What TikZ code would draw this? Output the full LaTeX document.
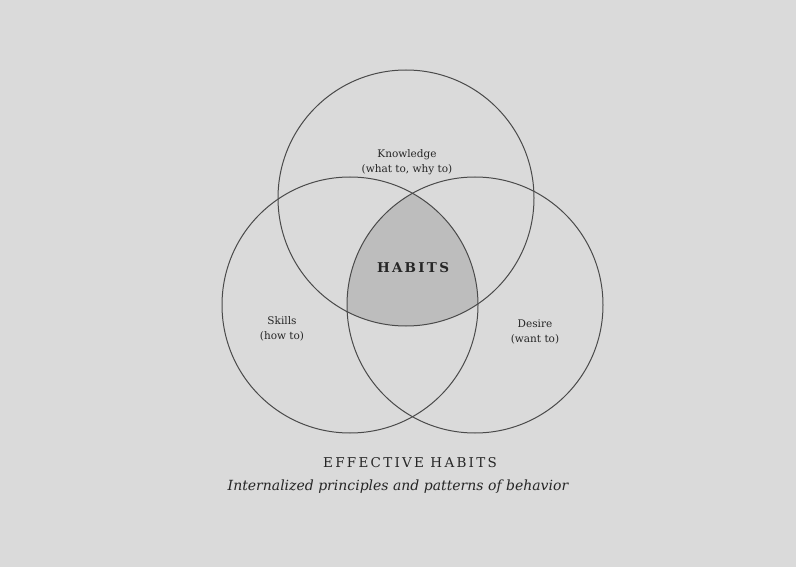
\documentclass[tikz,border=0pt]{standalone}
\usepackage{fontspec}
\setmainfont{DejaVu Serif}
\definecolor{bgc}{HTML}{DADADA}
\definecolor{hab}{HTML}{BDBDBD}
\definecolor{linec}{HTML}{4A4A4A}
\definecolor{txt}{HTML}{262626}
\begin{document}
\begin{tikzpicture}[x=1pt,y=-1pt,
  ring/.style={draw=linec,line width=1pt},
  lbl/.style={text=txt,font=\fontsize{10.5}{15}\selectfont,align=center,inner sep=0pt},
  caps/.style={text=txt,inner sep=0pt}]
\fill[bgc] (0,0) rectangle (796,567);
\useasboundingbox (0,0) rectangle (796,567);
\coordinate (ck) at (406,198);
\coordinate (cs) at (350,305);
\coordinate (cd) at (475,305);
\begin{scope}
  \clip (ck) circle[radius=128];
  \clip (cs) circle[radius=128];
  \fill[hab] (cd) circle[radius=128];
\end{scope}
\draw[ring] (ck) circle[radius=128];
\draw[ring] (cs) circle[radius=128];
\draw[ring] (cd) circle[radius=128];
\node[lbl] (know) at (407,162) {Knowledge\\(what to, why to)};
\node[caps,font=\fontsize{13.5}{15}\selectfont\bfseries] (habits) at (413,268) {H\,A\,B\,I\,T\,S};
\node[lbl] (skills) at (282,329) {Skills\\(how to)};
\node[lbl] (desire) at (535,332) {Desire\\(want to)};
\node[caps,font=\fontsize{13.5}{15}\selectfont] (eff) at (410,463) {E\,F\,F\,E\,C\,T\,I\,V\,E\ \,H\,A\,B\,I\,T\,S};
\node[caps,font=\fontsize{14}{16}\selectfont\itshape] (int) at (398,487) {Internalized principles and patterns of behavior};
\end{tikzpicture}
\end{document}
